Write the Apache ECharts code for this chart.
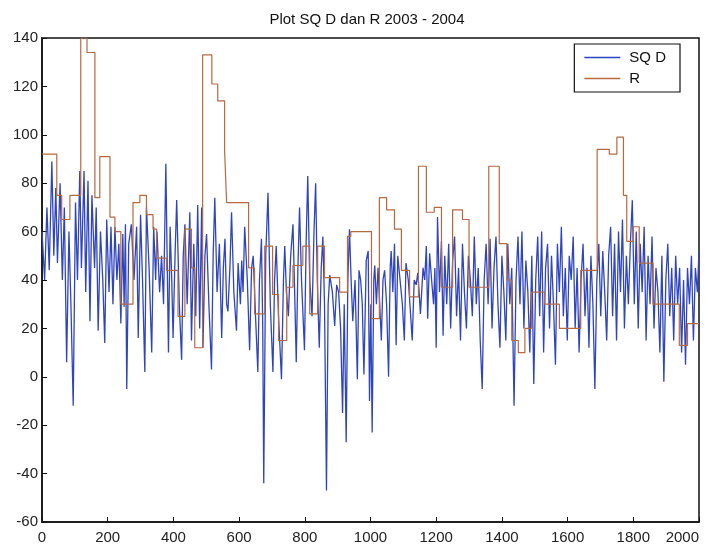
<!DOCTYPE html>
<html lang="en">
  <head>
    <meta charset="UTF-8" />
    <title>Plot SQ D dan R 2003 - 2004</title>
    <script src="https://cdn.jsdelivr.net/npm/echarts@6.0.0/dist/echarts.min.js"></script>
  </head>
  <body style="margin: 0">
    <div id="main" style="width: 706px; height: 557px"></div>
    <script type="text/javascript">
      // tick labels
      const xTicks = [0, 200, 400, 600, 800, 1000, 1200, 1400, 1600, 1800, 2000];
      const yTicks = [-60, -40, -20, 0, 20, 40, 60, 80, 100, 120, 140];

      const sqdX = [
        0, 8, 15, 22, 30, 36, 42, 47, 55, 62, 68, 75, 82, 88, 95, 102, 108, 115, 120, 128,
        133, 140, 146, 152, 160, 165, 171, 178, 185, 191, 197, 204, 210, 216, 222, 228, 234, 240, 246, 250,
        254, 258, 264, 272, 280, 288, 293, 300, 306, 313, 318, 326, 334, 340, 346, 350, 358, 364, 370, 377,
        385, 390, 395, 399, 405, 410, 418, 425, 430, 435, 442, 450, 455, 462, 468, 474, 480, 486, 490, 496,
        501, 508, 516, 521, 526, 533, 540, 547, 552, 557, 562, 566, 572, 577, 584, 592, 597, 604, 608, 612,
        617, 625, 632, 638, 643, 650, 657, 662, 668, 672, 675, 681, 688, 695, 703, 708, 713, 720, 729, 735,
        739, 744, 750, 757, 764, 770, 774, 779, 784, 790, 799, 804, 809, 815, 822, 828, 833, 838, 844, 850,
        855, 860, 866, 871, 876, 884, 891, 897, 903, 909, 915, 920, 926, 931, 936, 941, 946, 953, 960, 965,
        970, 975, 980, 987, 993, 997, 1001, 1005, 1010, 1013, 1018, 1023, 1028, 1033, 1038, 1043, 1049, 1055, 1060, 1063,
        1068, 1073, 1078, 1083, 1090, 1097, 1103, 1108, 1115, 1120, 1127, 1133, 1139, 1144, 1148, 1152, 1160, 1165, 1170, 1174,
        1180, 1186, 1192, 1196, 1200, 1204, 1210, 1216, 1221, 1226, 1232, 1238, 1244, 1250, 1256, 1262, 1268, 1274, 1280, 1286,
        1292, 1298, 1304, 1310, 1316, 1322, 1328, 1334, 1340, 1346, 1352, 1358, 1364, 1370, 1376, 1382, 1388, 1394, 1400, 1406,
        1412, 1418, 1424, 1430, 1437, 1443, 1449, 1455, 1461, 1467, 1473, 1479, 1485, 1491, 1497, 1503, 1509, 1515, 1521, 1527,
        1533, 1539, 1545, 1551, 1557, 1563, 1569, 1575, 1581, 1587, 1593, 1599, 1605, 1611, 1617, 1623, 1629, 1635, 1641, 1647,
        1653, 1659, 1665, 1671, 1677, 1683, 1689, 1695, 1701, 1707, 1713, 1719, 1725, 1731, 1737, 1743, 1749, 1755, 1761, 1767,
        1773, 1779, 1785, 1791, 1797, 1803, 1809, 1815, 1821, 1827, 1833, 1839, 1845, 1851, 1857, 1863, 1869, 1875, 1881, 1887,
        1893, 1899, 1905, 1911, 1917, 1923, 1929, 1935, 1941, 1947, 1953, 1959, 1965, 1971, 1977, 1983, 1989, 1995, 2000
      ];
      const sqdY = [
        60, 40, 70, 44, 89, 50, 78, 47, 80, 40, 70, 6, 60, 30, -12, 72, 40, 85, 45, 85,
        35, 81, 23, 75, 45, 70, 19, 60, 40, 14, 65, 35, 62, 30, 62, 40, 55, 22, 59, 29,
        63, -5, 55, 63, 40, 62, 16, 67, 40, 2, 70, 45, 10, 62, 40, 60, 35, 50, 30, 88,
        10, 62, 40, 16, 50, 73, 30, 7, 50, 63, 30, 68, 15, 55, 25, 71, 20, 70, 12, 50,
        59, 30, 3, 50, 74, 35, 55, 16, 45, 57, 30, 27, 45, 68, 35, 19, 47, 30, 48, 35,
        62, 40, 11, 45, 50, 25, 2, 40, 57, 20, -44, 50, 76, 30, 2, 40, 54, 25, -1, 40,
        54, 35, 25, 50, 63, 30, 6, 45, 70, 40, 11, 55, 83, 40, 25, 60, 80, 40, 12, 45,
        58, 30, -47, 30, 42, 35, 21, 38, 35, 20, -15, 30, -27, 40, 61, 40, 23, 40, -1, 44,
        40, 30, 1, 48, 52, -10, 30, -23, 40, 46, 30, 45, 30, 15, 40, 44, 30, 0, 45, 52,
        35, 55, 13, 50, 40, 30, 15, 47, 40, 30, 15, 40, 38, 43, 35, 26, 45, 40, 54, 24,
        51, 40, 30, 45, 12, 66, 35, 56, 17, 50, 30, 55, 20, 48, 58, 25, 45, 15, 55, 35,
        20, 50, 40, 25, 58, 30, 45, 15, -5, 40, 55, 30, 57, 20, 45, 58, 30, 12, 50, 35,
        15, 55, 30, 45, -12, 40, 58, 30, 60, 20, 48, 35, 10, 50, -3, 40, 58, 25, 60, 10,
        45, 55, 20, 50, 30, 5, 55, 35, 62, 25, 45, 15, 50, 40, 58, 20, 45, 10, 40, 55,
        25, 45, 12, 50, 30, -5, 40, 55, 25, 52, 35, 15, 50, 62, 25, 55, 15, 60, 35, 65,
        20, 50, 30, 55, 73, 30, 60, 20, 55, 35, 62, 15, 50, 30, 58, 20, 45, 35, 10, 50,
        -2, 40, 55, 25, 45, 15, 50, 30, 45, 10, 40, 5, 45, 30, 50, 15, 45, 35, 52
      ];

      // R (brown step line): value held from each start x to the next
      const rX = [
        0, 45, 60, 85, 118, 137, 161, 176, 207, 222, 240, 277, 298, 318, 338, 349, 379, 414, 435, 455,
        465, 489, 517, 535, 556, 562, 629, 647, 678, 702, 720, 745, 764, 794, 815, 839, 860, 906, 930, 940,
        1003, 1027, 1049, 1073, 1094, 1119, 1146, 1170, 1194, 1216, 1250, 1280, 1300, 1360, 1392, 1415, 1430, 1450, 1470, 1490,
        1530, 1575, 1640, 1690, 1727, 1750, 1770, 1780, 1800, 1818, 1860, 1940, 1965, 2000
      ];
      const rY = [
        92, 75, 65, 75, 140, 134, 74, 91, 66, 60, 30, 72, 75, 67, 61, 49, 44, 25, 61, 45,
        12, 133, 121, 114, 93, 72, 45, 26, 54, 34, 15, 37, 46, 54, 26, 54, 41, 35, 58, 60,
        24, 74, 69, 61, 44, 33, 87, 68, 70, 37, 69, 65, 37, 87, 55, 40, 15, 10, 20, 35,
        30, 20, 44, 94, 92, 99, 75, 56, 62, 47, 30, 13, 22, 22
      ];

      const sqdData = sqdX.map((x, i) => [x, sqdY[i]]);
      const rData = rX.map((x, i) => [x, rY[i]]);

      const labelFont = { fontFamily: "Liberation Sans", fontSize: 15, color: "#222" };

      let myChart = echarts.init(document.getElementById("main"));
      let options = {
        backgroundColor: "#fff",
        animation: false,
        title: {
          text: "Plot SQ D dan R 2003 - 2004",
          left: 362,
          top: 7,
          textAlign: "center",
          textStyle: { fontFamily: "Liberation Sans", fontSize: 15, fontWeight: "normal", color: "#111" },
        },
        grid: {
          left: 42, right: 7, top: 38, bottom: 35,
          outerBoundsMode: "none",
          show: true, borderColor: "#111", borderWidth: 1.5, backgroundColor: "#fff",
        },
        legend: {
          data: [
            { name: "SQ D", icon: "rect" },
            { name: "R", icon: "rect" },
          ],
          orient: "vertical",
          right: 26, top: 44,
          padding: [6, 14, 6, 10],
          itemGap: 6,
          itemWidth: 36,
          itemHeight: 1.5,
          borderColor: "#111",
          borderWidth: 1.2,
          borderRadius: 0,
          backgroundColor: "#fff",
          textStyle: { fontFamily: "Liberation Sans", fontSize: 15, color: "#111", padding: [0, 0, 0, 4] },
        },
        xAxis: {
          type: "value",
          min: xTicks[0], max: xTicks[xTicks.length - 1], interval: 200,
          axisLine: { show: true, onZero: false, lineStyle: { color: "#111", width: 1.5 } },
          axisTick: { show: true, inside: true, length: 5, lineStyle: { color: "#111" } },
          axisLabel: { ...labelFont, margin: 8, alignMaxLabel: "right", formatter: (v) => String(v) },
          splitLine: { show: false },
        },
        yAxis: {
          type: "value",
          min: yTicks[0], max: yTicks[yTicks.length - 1], interval: 20,
          axisLine: { show: true, lineStyle: { color: "#111", width: 1.5 } },
          axisTick: { show: true, inside: true, length: 5, lineStyle: { color: "#111" } },
          axisLabel: { ...labelFont, margin: 4 },
          splitLine: { show: false },
        },
        series: [
          {
            name: "SQ D",
            type: "line",
            data: sqdData,
            symbol: "none",
            lineStyle: { color: "#2f45c0", width: 1.3 },
            itemStyle: { color: "#2f45c0" },
            z: 2,
          },
          {
            name: "R",
            type: "line",
            data: rData,
            step: "end",
            symbol: "none",
            lineStyle: { color: "#b8683f", width: 1.2 },
            itemStyle: { color: "#b8683f" },
            z: 3,
          },
        ],
      };
      myChart.setOption(options);
    </script>
  </body>
</html>
